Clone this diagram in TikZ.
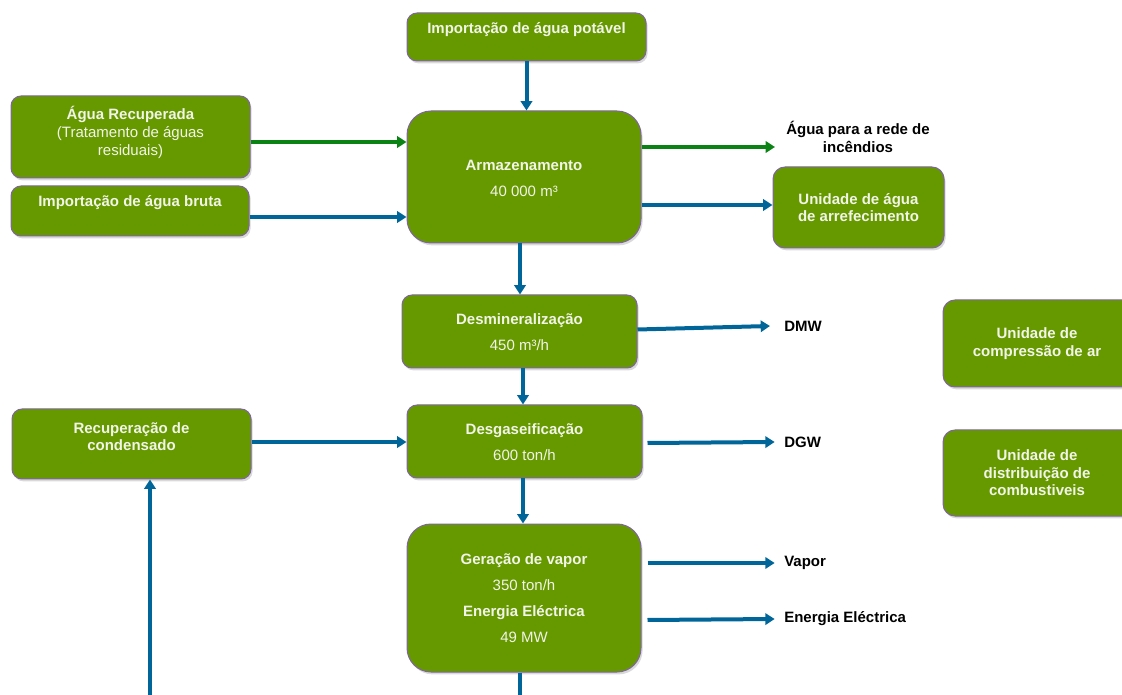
\documentclass[tikz,border=0pt]{standalone}
\usepackage{fontspec}
\setmainfont{Liberation Sans}
\usetikzlibrary{arrows.meta,shadows,calc}

\definecolor{boxgreen}{RGB}{102,153,0}
\definecolor{boxedge}{RGB}{128,100,162}
\definecolor{flowblue}{RGB}{0,102,153}
\definecolor{flowgreen}{RGB}{10,130,20}
\definecolor{boxtext}{RGB}{242,244,232}

\tikzset{
  box/.style={draw=boxedge, line width=0.75pt, fill=boxgreen,
    rounded corners=7.5pt, inner sep=0pt,
    drop shadow={shadow xshift=1.2pt, shadow yshift=-1.8pt, opacity=0.3}},
  bigbox/.style={box, rounded corners=18pt},
  sz/.style 2 args={minimum width=#1*0.75pt, minimum height=#2*0.75pt},
  boxtxt/.style={text=boxtext, font=\fontsize{11.25}{13.2}\selectfont,
    align=center, inner sep=0pt},
  outtxt/.style={text=black, font=\bfseries\fontsize{11.25}{13.2}\selectfont,
    align=center, inner sep=0pt},
  endtxt/.style={outtxt, anchor=west},
  flow/.style={draw=flowblue, line width=3pt,
    -{Triangle[length=7pt,width=8.5pt]}},
  gflow/.style={flow, draw=flowgreen},
  pipe/.style={draw=flowblue, line width=3pt}
}

\begin{document}
\begin{tikzpicture}[x=0.75pt, y=-0.75pt]
\useasboundingbox (0,0) rectangle (1122,695);
\clip (0,0) rectangle (1122,695);

% process boxes
\node[box, sz={239}{48}] (pot) at (526.5,37) {};
\node[box, sz={239}{82}] (rec) at (130.5,137) {};
\node[box, sz={238}{50}] (bru) at (130,211) {};
\node[bigbox, sz={234}{132}] (arm) at (524,177) {};
\node[box, rounded corners=9pt, sz={171}{81}] (arf) at (858.5,207.5) {};
\node[box, sz={235}{73}] (dem) at (519.5,331.5) {};
\node[box, sz={235}{73}] (dga) at (524.5,441.5) {};
\node[box, sz={239}{70}] (rcd) at (131.5,444) {};
\node[box, rounded corners=9pt, sz={192}{87}] (cmp) at (1039,343.5) {};
\node[box, rounded corners=9pt, sz={192}{86}] (cmb) at (1039,473) {};
\node[bigbox, sz={234}{148}] (ger) at (524,598) {};

% box texts
\node[boxtxt] (pot-t) at (526.5,30) {\textbf{Importação de água potável}};
\node[boxtxt] (rec-t) at (130.5,132.5) {\textbf{Água Recuperada}\\(Tratamento de águas\\residuais)};
\node[boxtxt] (bru-t) at (130,203) {\textbf{Importação de água bruta}};
\node[boxtxt] (arm-t) at (524,178) {\textbf{Armazenamento}\\[6.3pt]40 000 m³};
\node[boxtxt] (arf-t) at (858.5,207.5) {\textbf{Unidade de água}\\\textbf{de arrefecimento}};
\node[boxtxt] (dem-t) at (519.5,332) {\textbf{Desmineralização}\\[6.3pt]450 m³/h};
\node[boxtxt] (dga-t) at (524.5,442) {\textbf{Desgaseificação}\\[6.3pt]600 ton/h};
\node[boxtxt] (rcd-t) at (131.5,436.5) {\textbf{Recuperação de}\\\textbf{condensado}};
\node[boxtxt] (cmp-t) at (1037,343.5) {\textbf{Unidade de}\\\textbf{compressão de ar}};
\node[boxtxt] (cmb-t) at (1037,473) {\textbf{Unidade de}\\\textbf{distribuição de}\\\textbf{combustiveis}};
\node[boxtxt] (ger-t) at (524,598) {\textbf{Geração de vapor}\\[6.3pt]350 ton/h\\[6.3pt]\textbf{Energia Eléctrica}\\[6.3pt]49 MW};

% outgoing stream labels
\node[outtxt] (inc) at (858,137) {Água para a rede de\\incêndios};
\node[endtxt] (dmw) at (784,326) {DMW};
\node[endtxt] (dgw) at (784,442) {DGW};
\node[endtxt] (vap) at (784,563) {Vapor};
\node[endtxt] (ene) at (784,619) {Energia Eléctrica};

% connector start points on the box edges
\coordinate (rec-o) at ($(rec.east)+(0,5)$);
\coordinate (bru-o) at ($(bru.east)+(0,6)$);
\coordinate (arm-o1) at ($(arm.east)+(0,-30)$);
\coordinate (arm-o2) at ($(arm.east)+(0,28)$);
\coordinate (arm-o3) at ($(arm.south)+(-4,0)$);
\coordinate (dem-o1) at ($(dem.east)+(0,-2)$);
\coordinate (dem-o2) at ($(dem.south)+(3.5,0)$);
\coordinate (rcd-o) at ($(rcd.east)+(0,-2)$);
\coordinate (dga-o1) at ($(dga.east)+(5,1.5)$);
\coordinate (dga-o2) at ($(dga.south)+(-1.5,0)$);
\coordinate (ger-o1) at ($(ger.east)+(6,-35)$);
\coordinate (ger-o2) at ($(ger.east)+(6,22)$);
\coordinate (ger-o3) at ($(ger.south)+(-4,0)$);

% free ends
\coordinate (inc-end) at (775,147);
\coordinate (ger-out) at (520,700);
\coordinate (cond-in) at (150,700);

% connectors
\draw[flow] (pot.south) -- (pot.south |- arm.north);
\draw[gflow] (rec-o) -- (rec-o -| arm.west);
\draw[flow] (bru-o) -- (bru-o -| arm.west);
\draw[gflow] (arm-o1) -- (inc-end);
\draw[flow] (arm-o2) -- (arm-o2 -| arf.west);
\draw[flow] (arm-o3) -- (arm-o3 |- dem.north);
\draw[flow] (dem-o1) -- ([xshift=-10.5pt]dmw.west);
\draw[flow] (dem-o2) -- (dem-o2 |- dga.north);
\draw[flow] (rcd-o) -- (rcd-o -| dga.west);
\draw[flow] (dga-o1) -- ([xshift=-7pt]dgw.west);
\draw[flow] (dga-o2) -- (dga-o2 |- ger.north);
\draw[flow] (ger-o1) -- ([xshift=-7pt]vap.west);
\draw[flow] (ger-o2) -- ([xshift=-7pt]ene.west);
\draw[pipe] (ger-o3) -- (ger-out);
\draw[flow] (cond-in) -- (cond-in |- rcd.south);
\end{tikzpicture}
\end{document}
